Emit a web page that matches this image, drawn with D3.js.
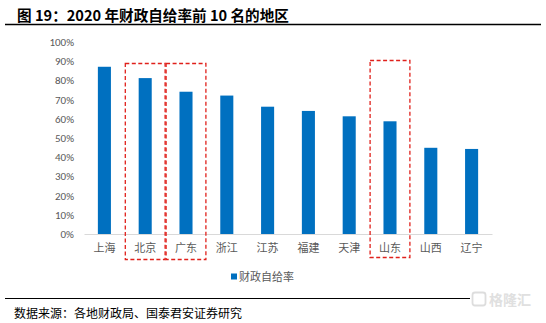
<!DOCTYPE html>
<html><head><meta charset="utf-8">
<script src="https://cdn.jsdelivr.net/npm/d3@7"></script>
<style>
body{margin:0;background:#fff;}
svg{display:block;}
</style></head>
<body>
<svg id="c" width="546" height="323"></svg>
<script>
const categories = ["上海","北京","广东","浙江","江苏","福建","天津","山东","山西","辽宁"];
const values = [0.871, 0.812, 0.741, 0.721, 0.663, 0.641, 0.613, 0.587, 0.449, 0.443];
const yTicks = [0,0.1,0.2,0.3,0.4,0.5,0.6,0.7,0.8,0.9,1.0];
const highlighted = ["北京","广东","山东"];
const titleText = "图 19：2020 年财政自给率前 10 名的地区";
const legendText = "财政自给率";
const sourceText = "数据来源：各地财政局、国泰君安证券研究";

const svg = d3.select("#c");
const font = "'Noto Sans CJK SC', 'Microsoft YaHei', sans-serif";

// Title
svg.append("text").attr("x",17).attr("y",20.5)
  .attr("font-family",font).attr("font-weight",700).attr("font-size",14.6)
  .attr("fill","#000").text(titleText);
svg.append("line").attr("x1",5).attr("x2",541).attr("y1",24.5).attr("y2",24.5)
  .attr("stroke","#000").attr("stroke-width",1.5);

const x = d3.scaleBand().domain(categories).range([84,492]).paddingInner(0.68).paddingOuter(0.34);
const y = d3.scaleLinear().domain([0,1]).range([234,42]);

// Y axis labels
const yAxis = d3.axisLeft(y).tickValues(yTicks).tickFormat(d3.format(".0%")).tickSize(0).tickPadding(0);
const ya = svg.append("g").attr("transform","translate(74,0)").call(yAxis);
ya.select(".domain").remove();
ya.selectAll("text").attr("font-family","Calibri, 'Liberation Sans', Arial, sans-serif").attr("font-size",11).attr("fill","#595959");

// Bars
svg.append("g").selectAll("rect").data(values).join("rect")
  .attr("x",(d,i)=>x(categories[i]))
  .attr("width",x.bandwidth())
  .attr("y",d=>y(d))
  .attr("height",d=>y(0)-y(d))
  .attr("fill","#0070C0");

// X axis
const xAxis = d3.axisBottom(x).tickSize(0).tickPadding(10);
const xa = svg.append("g").attr("transform","translate(0,234)").call(xAxis);
xa.select(".domain").attr("stroke","#D9D9D9").attr("stroke-width",1);
xa.selectAll("text").attr("font-family",font).attr("font-size",11).attr("fill","#595959");

// Highlight boxes
const step = x.step();
highlighted.forEach(c=>{
  const cx = x(c) + x.bandwidth()/2;
  const isSD = c==="山东";
  svg.append("rect")
    .attr("x",cx-step/2+0.5).attr("width",step-1)
    .attr("y",isSD?60.5:63.5).attr("height",isSD?197:196)
    .attr("fill","none").attr("stroke","#E0201B").attr("stroke-width",1.3)
    .attr("stroke-dasharray","4,2.5");
});

// Legend
svg.append("rect").attr("x",231).attr("y",273.5).attr("width",6).attr("height",6).attr("fill","#0070C0");
svg.append("text").attr("x",239).attr("y",280.5).attr("font-family",font).attr("font-size",11)
  .attr("fill","#595959").text(legendText);

// Bottom rule & source
svg.append("line").attr("x1",5).attr("x2",470).attr("y1",298.5).attr("y2",298.5)
  .attr("stroke","#000").attr("stroke-width",1.2);
svg.append("text").attr("x",14).attr("y",318).attr("font-family","'AR PL UKai CN', KaiTi, "+font)
  .attr("font-size",12).attr("fill","#000").text(sourceText);

// Watermark
svg.append("rect").attr("x",472.5).attr("y",292.5).attr("width",13).attr("height",13).attr("rx",2.5)
  .attr("fill","none").attr("stroke","#DDDDDD").attr("stroke-width",1.8);
svg.append("text").attr("x",489).attr("y",305).attr("font-family",font).attr("font-size",14)
  .attr("fill","#E0E0E0").attr("font-weight",700).text("格隆汇");
</script>
</body></html>
